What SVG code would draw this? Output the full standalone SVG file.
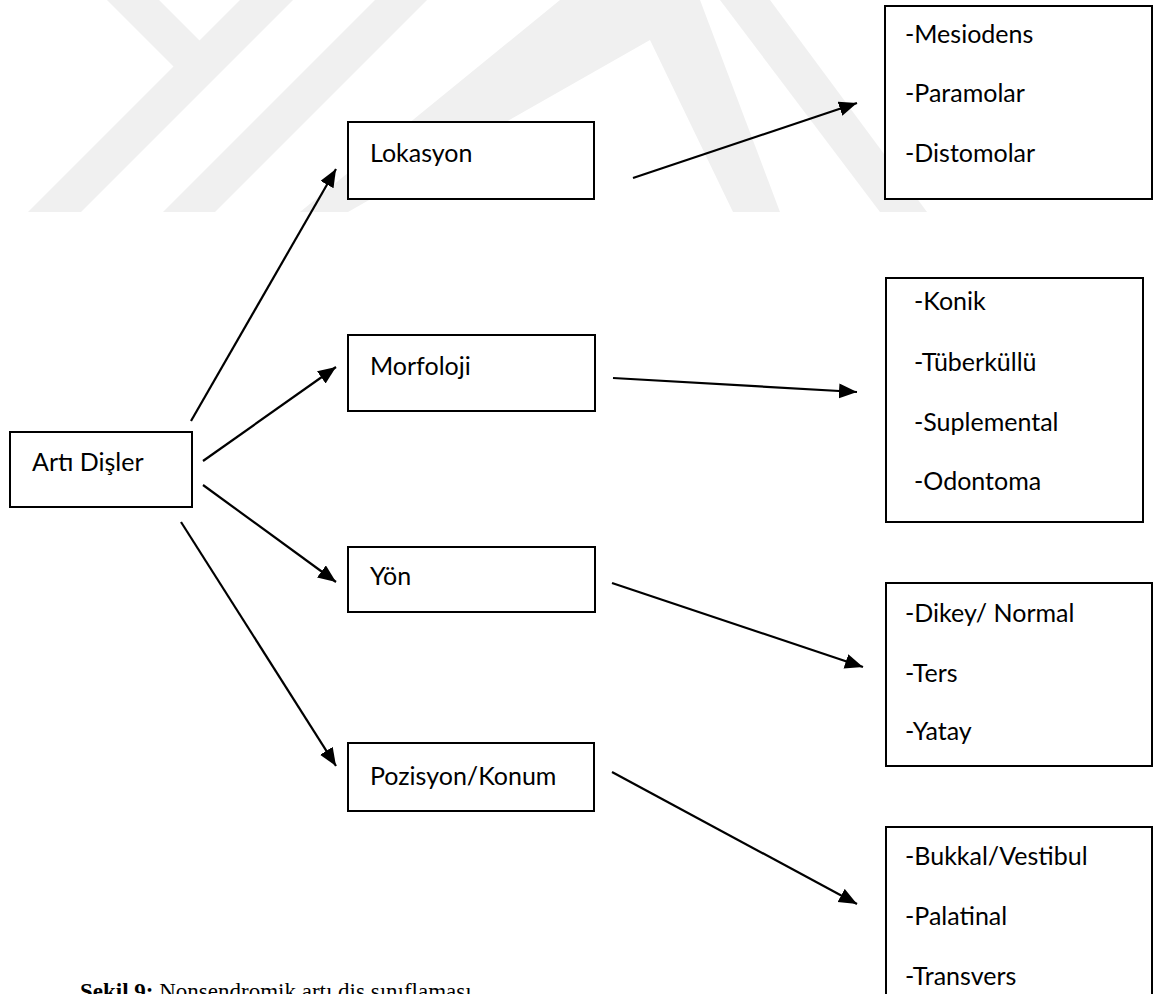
<svg xmlns="http://www.w3.org/2000/svg" width="1160" height="994" viewBox="0 0 1160 994">
<style>
.box{fill:#fff;stroke:#000;stroke-width:2}
.lbl{font-family:Lato,"Liberation Sans",sans-serif;font-size:25px;fill:#000}
.wm{fill:#f0f0f0}
.arr{stroke:#000;stroke-width:2.2;fill:none;marker-end:url(#ah)}
.cap{font-family:"Liberation Serif",serif;font-size:23px;fill:#000}
</style>
<defs>
<marker id="ah" markerUnits="userSpaceOnUse" markerWidth="20" markerHeight="16" refX="18" refY="7.5" orient="auto">
<path d="M0,0 L18,7.5 L0,15 z" fill="#000"/>
</marker>
</defs>
<rect width="1160" height="994" fill="#fff"/>
<g id="watermark">
<polygon class="wm" points="107,0 159,0 215,56 189,82"/>
<polygon class="wm" points="240,0 293,0 81,212 28,212"/>
<polygon class="wm" points="375,0 427,0 215,212 163,212"/>
<polygon class="wm" points="560,0 700,0 780,212 733,212 650,40 348,212 300,212"/>
<polygon class="wm" points="720,0 770,0 927,212 880,212"/>
</g>
<g id="connectors">
<line class="arr" x1="191" y1="421" x2="336" y2="169"/>
<line class="arr" x1="203" y1="461" x2="336" y2="367"/>
<line class="arr" x1="203" y1="485" x2="336" y2="582"/>
<line class="arr" x1="181" y1="522" x2="336" y2="766"/>
<line class="arr" x1="633" y1="178" x2="857" y2="103"/>
<line class="arr" x1="613" y1="378" x2="857" y2="392"/>
<line class="arr" x1="612" y1="583" x2="863" y2="667"/>
<line class="arr" x1="612" y1="772" x2="857" y2="904"/>
</g>
<g id="node-arti">
<rect class="box" x="10" y="432" width="182" height="75"/>
<text class="lbl" x="32" y="471">Artı Dişler</text>
</g>
<g id="node-lokasyon">
<rect class="box" x="348" y="122" width="246" height="77"/>
<text class="lbl" x="370" y="162">Lokasyon</text>
</g>
<g id="node-morfoloji">
<rect class="box" x="348" y="335" width="247" height="76"/>
<text class="lbl" x="370" y="375">Morfoloji</text>
</g>
<g id="node-yon">
<rect class="box" x="348" y="547" width="247" height="65"/>
<text class="lbl" x="370" y="585">Yön</text>
</g>
<g id="node-pozisyon">
<rect class="box" x="348" y="743" width="246" height="68"/>
<text class="lbl" x="370" y="785">Pozisyon/Konum</text>
</g>
<g id="node-lokasyon-list">
<rect class="box" x="885" y="6" width="267" height="193"/>
<text class="lbl" x="905" y="43">-Mesiodens</text>
<text class="lbl" x="905" y="102">-Paramolar</text>
<text class="lbl" x="905" y="162">-Distomolar</text>
</g>
<g id="node-morfoloji-list">
<rect class="box" x="886" y="278" width="257" height="244"/>
<text class="lbl" x="914" y="310">-Konik</text>
<text class="lbl" x="914" y="371">-Tüberküllü</text>
<text class="lbl" x="914" y="431">-Suplemental</text>
<text class="lbl" x="914" y="490">-Odontoma</text>
</g>
<g id="node-yon-list">
<rect class="box" x="886" y="583" width="266" height="183"/>
<text class="lbl" x="905" y="622">-Dikey/ Normal</text>
<text class="lbl" x="905" y="682">-Ters</text>
<text class="lbl" x="905" y="740">-Yatay</text>
</g>
<g id="node-pozisyon-list">
<rect class="box" x="886" y="827" width="266" height="180"/>
<text class="lbl" x="905" y="865">-Bukkal/Vestibul</text>
<text class="lbl" x="905" y="925">-Palatinal</text>
<text class="lbl" x="905" y="985">-Transvers</text>
</g>
<text class="cap" x="80" y="999"><tspan font-weight="bold">Şekil 9:</tspan> Nonsendromik artı diş sınıflaması</text>
</svg>
